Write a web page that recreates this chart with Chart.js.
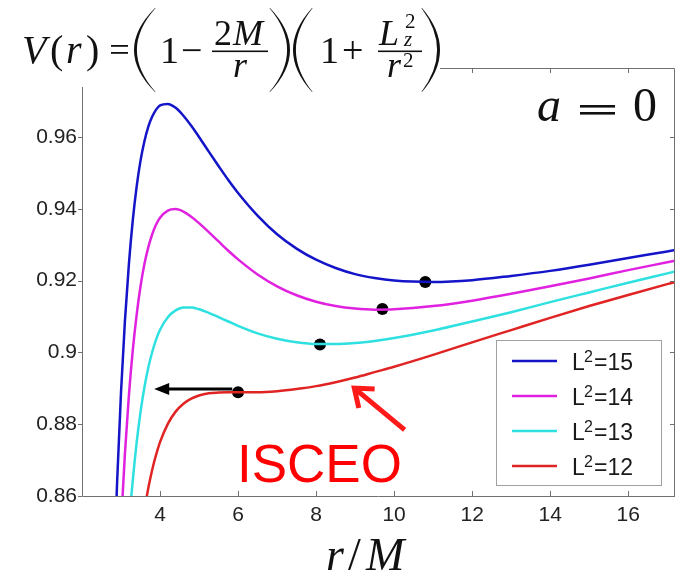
<!DOCTYPE html>
<html>
<head>
<meta charset="utf-8">
<script src="https://cdn.jsdelivr.net/npm/chart.js@4.4.1/dist/chart.umd.min.js"></script>
<style>
  html, body { margin: 0; padding: 0; background: #fff; }
</style>
</head>
<body>
<canvas id="potential-chart" width="681" height="580"></canvas>
<script>
// r/M where the curves were read, and V(r) for each L^2
var radius = [2.8, 2.9, 3.0, 3.1, 3.2, 3.3, 3.4, 3.5, 3.6, 3.7, 3.8, 3.9, 4.0, 4.2, 4.4, 4.6, 4.8, 5.0, 5.25, 5.5, 5.75, 6.0, 6.5, 7.0, 7.5, 8.0, 8.5, 9.0, 9.5, 10, 11, 12, 13, 14, 15, 16, 17, 17.5];
var potL15 = [0.8324, 0.8639, 0.8889, 0.9087, 0.9243, 0.9366, 0.9461, 0.9534, 0.9588, 0.9629, 0.9657, 0.9676, 0.9688, 0.9692, 0.9681, 0.9659, 0.9631, 0.9600, 0.9559, 0.9519, 0.9480, 0.9444, 0.9381, 0.9329, 0.9289, 0.9258, 0.9235, 0.9218, 0.9207, 0.9200, 0.9196, 0.9201, 0.9213, 0.9227, 0.9244, 0.9263, 0.9281, 0.9291];
var potL14 = [0.7959, 0.8270, 0.8519, 0.8718, 0.8877, 0.9004, 0.9104, 0.9184, 0.9246, 0.9293, 0.9329, 0.9356, 0.9375, 0.9395, 0.9399, 0.9392, 0.9378, 0.9360, 0.9335, 0.9309, 0.9283, 0.9259, 0.9217, 0.9184, 0.9159, 0.9141, 0.9129, 0.9122, 0.9119, 0.9120, 0.9129, 0.9144, 0.9163, 0.9184, 0.9206, 0.9229, 0.9251, 0.9262];
var potL13 = [0.7595, 0.7901, 0.8148, 0.8349, 0.8511, 0.8642, 0.8748, 0.8834, 0.8903, 0.8958, 0.9001, 0.9036, 0.9063, 0.9098, 0.9117, 0.9125, 0.9125, 0.9120, 0.9110, 0.9098, 0.9086, 0.9074, 0.9053, 0.9038, 0.9028, 0.9023, 0.9023, 0.9026, 0.9032, 0.9040, 0.9061, 0.9086, 0.9112, 0.9140, 0.9167, 0.9194, 0.9220, 0.9233];
var potL12 = [0.7230, 0.7532, 0.7778, 0.7979, 0.8145, 0.8280, 0.8392, 0.8484, 0.8560, 0.8622, 0.8673, 0.8715, 0.8750, 0.8801, 0.8835, 0.8857, 0.8871, 0.8880, 0.8886, 0.8888, 0.8889, 0.8889, 0.8889, 0.8892, 0.8898, 0.8906, 0.8917, 0.8930, 0.8945, 0.8960, 0.8993, 0.9028, 0.9062, 0.9096, 0.9129, 0.9160, 0.9190, 0.9204];

// black dots at the minima (stable circular orbits)
var minR = [10.8, 9.7, 8.1, 6.0];
var minV = [0.9196, 0.9121, 0.9022, 0.8889];

// arrows: [tail, tip]
var blackArrowR = [5.85, 3.85];
var blackArrowV = [0.8898, 0.8898];
var redArrowR = [10.27, 8.94];
var redArrowV = [0.8784, 0.8904];

var seriesNames = ['15', '14', '13', '12'];
var seriesColors = ['#1414c8', '#e022e0', '#2ee0e0', '#e02424'];

var xTicks = [4, 6, 8, 10, 12, 14, 16];
var yTicks = [0.86, 0.88, 0.90, 0.92, 0.94, 0.96];

var sans = '"Liberation Sans", Arial, sans-serif';
var serif = '"Liberation Serif", "Times New Roman", serif';

function toPoints(vals) {
    return radius.map((r, i) => ({ x: r, y: vals[i] }));
}

// tall bracket, thin at the ends
function bigParen(c, x, top, bot, w, isLeft) {
    var mid = (top + bot) / 2;
    var t = 2.6;
    var s = isLeft ? 1 : -1;
    c.beginPath();
    c.moveTo(x + s * w, top);
    c.quadraticCurveTo(x - s * w, mid, x + s * w, bot);
    c.lineTo(x + s * (w + 0.6), bot);
    c.quadraticCurveTo(x - s * (w - 2 * t), mid, x + s * (w + 0.6), top);
    c.closePath();
    c.fill();
}

function txt(c, s, x, y, font) {
    c.font = font;
    c.fillText(s, x, y);
}

var annotate = {
    id: 'annotate',
    afterDraw(chart) {
        var c = chart.ctx;
        var a = chart.chartArea;
        var xs = chart.scales.x, ys = chart.scales.y;
        c.save();

        // frame with ticks
        c.strokeStyle = '#707070';
        c.lineWidth = 1;
        c.beginPath();
        c.moveTo(a.left + 0.5, a.top + 0.5);
        c.lineTo(a.left + 0.5, a.bottom + 0.5);
        c.lineTo(a.right - 0.5, a.bottom + 0.5);
        c.lineTo(a.right - 0.5, a.top + 0.5);
        c.lineTo(a.left + 0.5, a.top + 0.5);
        xTicks.forEach(v => {
            var px = Math.round(xs.getPixelForValue(v)) + 0.5;
            c.moveTo(px, a.bottom); c.lineTo(px, a.bottom - 5);
            c.moveTo(px, a.top); c.lineTo(px, a.top + 5);
        });
        yTicks.forEach(v => {
            var py = Math.round(ys.getPixelForValue(v)) + 0.5;
            c.moveTo(a.left, py); c.lineTo(a.left - 4, py);
            c.moveTo(a.right, py); c.lineTo(a.right - 5, py);
        });
        c.stroke();

        // equation box sits on top of the frame
        c.fillStyle = '#fff';
        c.fillRect(0, 0, 440, 87);

        c.fillStyle = '#111';
        c.textBaseline = 'alphabetic';
        c.textAlign = 'left';
        txt(c, 'V', 22, 63, 'italic 40px ' + serif);
        txt(c, '(', 50, 63, '40px ' + serif);
        txt(c, 'r', 66, 63, 'italic 40px ' + serif);
        txt(c, ')', 86, 63, '40px ' + serif);
        c.fillRect(111, 45, 17, 1.8);
        c.fillRect(111, 52, 17, 1.8);
        bigParen(c, 134, 8, 92, 21, true);
        txt(c, '1', 160, 63, '38px ' + serif);
        txt(c, '\u2212', 181, 63, '38px ' + serif);
        txt(c, '2', 214, 45, '36px ' + serif);
        txt(c, 'M', 233, 45, 'italic 36px ' + serif);
        c.fillRect(212, 50.5, 56, 1.6);
        txt(c, 'r', 233, 77, 'italic 36px ' + serif);
        bigParen(c, 290, 8, 92, 20, false);
        bigParen(c, 293, 8, 92, 19, true);
        txt(c, '1', 320, 63, '38px ' + serif);
        txt(c, '+', 342, 63, '38px ' + serif);
        txt(c, 'L', 379, 45, 'italic 36px ' + serif);
        txt(c, '2', 405, 28, '21px ' + serif);
        txt(c, 'z', 404, 46, 'italic 21px ' + serif);
        c.fillRect(378, 50.5, 44, 1.6);
        txt(c, 'r', 387, 77, 'italic 36px ' + serif);
        txt(c, '2', 403, 67, '21px ' + serif);
        bigParen(c, 440, 8, 92, 18, false);

        // a = 0
        txt(c, 'a', 537, 121, 'italic 48px ' + serif);
        c.fillRect(580, 105, 35, 2.6);
        c.fillRect(580, 112, 35, 2.6);
        txt(c, '0', 633, 121, '48px ' + serif);

        // r/M
        txt(c, 'r', 326, 570, 'italic 46px ' + serif);
        txt(c, '/', 348, 570, '46px ' + serif);
        txt(c, 'M', 366, 570, 'italic 46px ' + serif);

        // black arrow toward smaller r
        var bx0 = xs.getPixelForValue(blackArrowR[0]), by0 = ys.getPixelForValue(blackArrowV[0]);
        var bx1 = xs.getPixelForValue(blackArrowR[1]), by1 = ys.getPixelForValue(blackArrowV[1]);
        c.strokeStyle = '#000';
        c.fillStyle = '#000';
        c.lineWidth = 3;
        c.beginPath();
        c.moveTo(bx0, by0); c.lineTo(bx1 + 10, by1);
        c.stroke();
        c.beginPath();
        c.moveTo(bx1, by1);
        c.lineTo(bx1 + 15, by1 - 6);
        c.lineTo(bx1 + 15, by1 + 6);
        c.closePath();
        c.fill();

        // red arrow pointing at the ISCO curve
        var rx0 = xs.getPixelForValue(redArrowR[0]), ry0 = ys.getPixelForValue(redArrowV[0]);
        var rx1 = xs.getPixelForValue(redArrowR[1]), ry1 = ys.getPixelForValue(redArrowV[1]);
        var ang = Math.atan2(ry0 - ry1, rx0 - rx1);
        c.strokeStyle = '#ff1a1a';
        c.lineWidth = 5;
        c.lineJoin = 'miter';
        c.beginPath();
        c.moveTo(rx0, ry0); c.lineTo(rx1 + 2 * Math.cos(ang), ry1 + 2 * Math.sin(ang));
        c.moveTo(rx1 + 22 * Math.cos(ang + 0.6), ry1 + 22 * Math.sin(ang + 0.6));
        c.lineTo(rx1 + 2 * Math.cos(ang), ry1 + 2 * Math.sin(ang));
        c.lineTo(rx1 + 22 * Math.cos(ang - 0.6), ry1 + 22 * Math.sin(ang - 0.6));
        c.stroke();

        c.fillStyle = '#ff0000';
        txt(c, 'ISCEO', 237, 482, '53px ' + sans);

        // legend
        c.fillStyle = '#fff';
        c.fillRect(496, 340, 165, 145);
        c.strokeStyle = '#a0a0a0';
        c.lineWidth = 1;
        c.strokeRect(496.5, 340.5, 165, 145);
        var rows = [361, 396, 431, 466];
        seriesNames.forEach((n, i) => {
            c.strokeStyle = seriesColors[i];
            c.lineWidth = 2.5;
            c.beginPath();
            c.moveTo(512, rows[i]); c.lineTo(557, rows[i]);
            c.stroke();
            c.fillStyle = '#1a1a1a';
            txt(c, 'L', 572, rows[i] + 9, '23px ' + sans);
            txt(c, '2', 584, rows[i] + 1, '16px ' + sans);
            txt(c, '=' + n, 594, rows[i] + 9, '23px ' + sans);
        });
        c.restore();
    }
};

var datasets = [potL15, potL14, potL13, potL12].map((vals, i) => ({
    label: 'L\u00b2=' + seriesNames[i],
    data: toPoints(vals),
    showLine: true,
    borderColor: seriesColors[i],
    borderWidth: 2.5,
    pointRadius: 0,
    cubicInterpolationMode: 'monotone',
    clip: 0
}));
datasets.push({
    label: 'minima',
    data: minR.map((r, i) => ({ x: r, y: minV[i] })),
    showLine: false,
    pointRadius: 6,
    pointBackgroundColor: '#000',
    pointBorderColor: '#000',
    pointBorderWidth: 0
});

var ctx = document.getElementById('potential-chart').getContext('2d');
var tickFont = { family: sans, size: 21 };
var myChart = new Chart(ctx, {
    type: 'scatter',
    data: { datasets: datasets },
    options: {
        responsive: false,
        animation: false,
        layout: { padding: { top: 68, right: 4, left: 0, bottom: 0 } },
        plugins: { legend: { display: false }, tooltip: { enabled: false } },
        scales: {
            x: {
                type: 'linear', min: 2, max: 17.2,
                grid: { display: false, drawTicks: false },
                border: { display: false },
                afterBuildTicks: s => { s.ticks = xTicks.map(v => ({ value: v })); },
                afterFit: s => { s.height = 84; },
                ticks: { padding: 7, font: tickFont, color: '#222', maxRotation: 0, autoSkip: false,
                         callback: v => String(v) }
            },
            y: {
                type: 'linear', min: 0.86, max: 0.9792,
                grid: { display: false, drawTicks: false },
                border: { display: false },
                afterBuildTicks: s => { s.ticks = yTicks.map(v => ({ value: v })); },
                afterFit: s => { s.width = 82; },
                ticks: { padding: 5, font: tickFont, color: '#222', autoSkip: false,
                         callback: v => String(+v.toFixed(2)) }
            }
        }
    },
    plugins: [annotate]
});
</script>
</body>
</html>
